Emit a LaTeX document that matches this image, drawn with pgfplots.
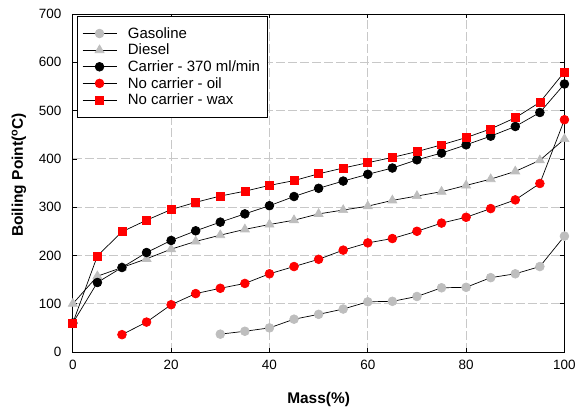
\documentclass[border=0pt]{standalone}
\usepackage{fontspec}
\setmainfont{Liberation Sans}
\usepackage{pgfplots}
\pgfplotsset{compat=1.18}
\definecolor{gascol}{RGB}{190,190,190}
\definecolor{gridcol}{RGB}{200,200,200}
\begin{document}
\begin{tikzpicture}[font=\fontsize{13.5pt}{16pt}\selectfont]
\begin{axis}[
  at={(0,0)}, anchor=south west,
  scale only axis, width=493pt, height=339pt,
  xmin=0, xmax=100, ymin=0, ymax=700,
  xtick={0,20,...,100}, ytick={0,100,...,700},
  tick align=inside, major tick length=4pt,
  tick style={black, line width=0.6pt},
  axis line style={line width=0.8pt},
  grid=major,
  major grid style={gridcol, dash pattern=on 9pt off 3pt, line width=0.8pt},
  /pgf/number format/assume math mode=true,
  xticklabel style={yshift=-5pt},
  yticklabel style={xshift=-8pt},
  xlabel={\textbf{Mass(\%)}},
  ylabel={\textbf{Boiling Point(\textsuperscript{o}C)}},
  label style={font=\fontsize{15.5pt}{18pt}\selectfont},
  xlabel style={at={(0.5,0)}, anchor=center, yshift=-48pt},
  ylabel style={at={(0,0.5)}, anchor=center, yshift=54pt, xshift=8pt},
  every axis plot/.append style={black, line width=0.7pt},
  legend cell align=left,
  legend style={at={(0.0081,0.994)}, anchor=north west, draw=black,
    line width=0.8pt, inner xsep=5pt, inner ysep=9pt,
    nodes={font=\fontsize{15pt}{17pt}\selectfont},
    row sep=0.3pt,
    /tikz/every odd column/.append style={column sep=9pt}},
  legend image post style={line width=0.7pt},
  legend image code/.code={
    \draw[mark repeat=2,mark phase=2] plot coordinates {(0cm,0cm) (0.6cm,0cm) (1.2cm,0cm)};},
]
\addplot[mark=*, mark size=4.4pt, mark options={draw=gascol, fill=gascol}] coordinates {
(30,37)(35,43)(40,50)(45,68)(50,78)(55,89)(60,104)(65,105)(70,115)(75,133)
(80,134)(85,154)(90,162)(95,177)(100,240)};
\addlegendentry{Gasoline}
\addplot[mark=triangle*, mark size=5.2pt, mark options={draw=gascol, fill=gascol}] coordinates {
(0,100)(5,157)(10,175)(15,193)(20,213)(25,229)(30,242)(35,254)(40,264)(45,273)
(50,286)(55,294)(60,302)(65,314)(70,323)(75,332)(80,345)(85,358)(90,374)(95,397)(100,441)};
\addlegendentry{Diesel}
\addplot[mark=*, mark size=4.4pt, mark options={draw=black, fill=black}] coordinates {
(0,60)(5,144)(10,175)(15,206)(20,231)(25,251)(30,269)(35,286)(40,303)(45,322)
(50,339)(55,354)(60,368)(65,381)(70,398)(75,412)(80,429)(85,447)(90,467)(95,496)(100,555)};
\addlegendentry{Carrier - 370 ml/min}
\addplot[mark=*, mark size=4.4pt, mark options={draw=red, fill=red}] coordinates {
(10,36)(15,62)(20,98)(25,121)(30,132)(35,142)(40,162)(45,177)(50,192)(55,211)
(60,226)(65,235)(70,250)(75,267)(80,279)(85,297)(90,315)(95,349)(100,481)};
\addlegendentry{No carrier - oil}
\addplot[mark=square*, mark size=4pt, mark options={draw=red, fill=red}] coordinates {
(0,60)(5,199)(10,249)(15,273)(20,295)(25,310)(30,323)(35,333)(40,345)(45,355)
(50,369)(55,381)(60,392)(65,403)(70,415)(75,429)(80,444)(85,462)(90,485)(95,517)(100,580)};
\addlegendentry{No carrier - wax}
\end{axis}
\path (-73pt,-59pt) rectangle (506pt,353pt);
\end{tikzpicture}
\end{document}
